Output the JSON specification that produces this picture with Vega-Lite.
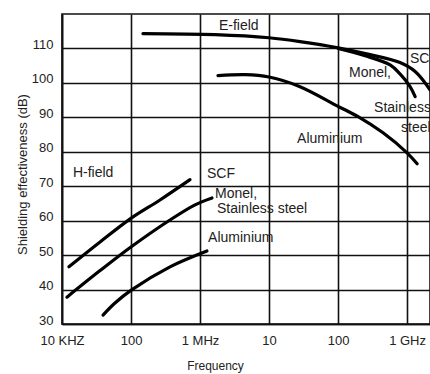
{
  "$schema": "https://vega.github.io/schema/vega-lite/v6.json",
  "width": 368,
  "height": 310,
  "autosize": {"type": "none"},
  "padding": {"left": 62, "top": 14, "right": 0, "bottom": 50},
  "background": "white",
  "config": {
    "font": "Liberation Sans",
    "view": {"stroke": "#111", "strokeWidth": 1.6},
    "axis": {
      "grid": true,
      "gridColor": "#111",
      "gridWidth": 1.6,
      "gridOpacity": 1,
      "domainColor": "#111",
      "domainWidth": 1.6,
      "ticks": false,
      "labelColor": "#222",
      "titleColor": "#222",
      "labelFontSize": 13,
      "titleFontSize": 13,
      "titleFontWeight": "normal"
    }
  },
  "datasets": {
    "curves": [
      {"curve": "E SCF", "f": 149000, "db": 114.3},
      {"curve": "E SCF", "f": 1650000, "db": 114.0},
      {"curve": "E SCF", "f": 10000000, "db": 113.1},
      {"curve": "E SCF", "f": 28100000, "db": 112.0},
      {"curve": "E SCF", "f": 100000000, "db": 110.2},
      {"curve": "E SCF", "f": 291000000, "db": 108.2},
      {"curve": "E SCF", "f": 790000000, "db": 105.9},
      {"curve": "E SCF", "f": 1310000000, "db": 103.3},
      {"curve": "E SCF", "f": 2150000000, "db": 98.0},
      {"curve": "E Monel", "f": 100000000, "db": 110.0},
      {"curve": "E Monel", "f": 246000000, "db": 107.9},
      {"curve": "E Monel", "f": 568000000, "db": 105.2},
      {"curve": "E Monel", "f": 790000000, "db": 102.6},
      {"curve": "E Monel", "f": 1100000000, "db": 99.0},
      {"curve": "E Monel", "f": 1310000000, "db": 96.0},
      {"curve": "E Al", "f": 1820000, "db": 102.1},
      {"curve": "E Al", "f": 4490000, "db": 102.4},
      {"curve": "E Al", "f": 10000000, "db": 101.7},
      {"curve": "E Al", "f": 28100000, "db": 98.9},
      {"curve": "E Al", "f": 100000000, "db": 93.2},
      {"curve": "E Al", "f": 195000000, "db": 90.2},
      {"curve": "E Al", "f": 449000000, "db": 85.5},
      {"curve": "E Al", "f": 1000000000, "db": 79.7},
      {"curve": "E Al", "f": 1400000000, "db": 76.5},
      {"curve": "H SCF", "f": 12600, "db": 46.6},
      {"curve": "H SCF", "f": 35600, "db": 53.8},
      {"curve": "H SCF", "f": 102000, "db": 60.8},
      {"curve": "H SCF", "f": 263000, "db": 66.0},
      {"curve": "H SCF", "f": 716000, "db": 71.9},
      {"curve": "H Monel", "f": 11800, "db": 37.8},
      {"curve": "H Monel", "f": 35600, "db": 45.5},
      {"curve": "H Monel", "f": 102000, "db": 52.5},
      {"curve": "H Monel", "f": 367000, "db": 60.2},
      {"curve": "H Monel", "f": 847000, "db": 64.6},
      {"curve": "H Monel", "f": 1490000, "db": 66.6},
      {"curve": "H Al", "f": 39300, "db": 32.6},
      {"curve": "H Al", "f": 58600, "db": 36.1},
      {"curve": "H Al", "f": 102000, "db": 39.9},
      {"curve": "H Al", "f": 367000, "db": 46.6},
      {"curve": "H Al", "f": 1260000, "db": 51.2}
    ],
    "labels": [
      {"label": "E-field", "f": 1880000, "db": 115.5},
      {"label": "SCF", "f": 1100000000, "db": 105.9},
      {"label": "Monel,", "f": 144000000, "db": 101.8},
      {"label": "Stainless", "f": 333000000, "db": 91.6},
      {"label": "steel", "f": 818000000, "db": 85.8},
      {"label": "Aluminium", "f": 25500000, "db": 82.6},
      {"label": "H-field", "f": 14400, "db": 72.7},
      {"label": "SCF", "f": 1260000, "db": 72.4},
      {"label": "Monel,", "f": 1650000, "db": 66.6},
      {"label": "Stainless steel", "f": 1760000, "db": 62.3},
      {"label": "Aluminium", "f": 1310000, "db": 53.8}
    ]
  },
  "encoding": {
    "x": {
      "field": "f",
      "type": "quantitative",
      "scale": {"type": "log", "domain": [10000, 2150000000], "nice": false},
      "axis": {
        "title": "Frequency",
        "values": [10000, 100000, 1000000, 10000000, 100000000, 1000000000],
        "labelExpr": "['10 KHZ','100','1 MHz','10','100','1 GHz'][round(log(datum.value)/LN10)-4]",
        "labelPadding": 10,
        "labelFlush": false,
        "titleFontSize": 12,
        "titleX": 153,
        "titleY": 45,
        "titleAlign": "center",
        "titleBaseline": "alphabetic",
        "titleAnchor": null
      }
    },
    "y": {
      "field": "db",
      "type": "quantitative",
      "scale": {"domain": [30, 120], "nice": false, "zero": false},
      "axis": {
        "title": "Shielding effectiveness (dB)",
        "values": [30, 40, 50, 60, 70, 80, 90, 100, 110],
        "labelPadding": 9,
        "labelBaseline": "alphabetic",
        "labelFlush": false,
        "titleX": -40,
        "titleY": 160,
        "titleAngle": -90,
        "titleAlign": "center",
        "titleBaseline": "middle"
      }
    }
  },
  "layer": [
    {
      "data": {"name": "curves"},
      "mark": {"type": "line", "color": "black", "strokeWidth": 3.2, "strokeCap": "round", "interpolate": "catmull-rom", "clip": true},
      "encoding": {"detail": {"field": "curve"}}
    },
    {
      "data": {"name": "labels"},
      "mark": {"type": "text", "align": "left", "baseline": "alphabetic", "fontSize": 14, "color": "#222"},
      "encoding": {"text": {"field": "label"}}
    }
  ]
}
